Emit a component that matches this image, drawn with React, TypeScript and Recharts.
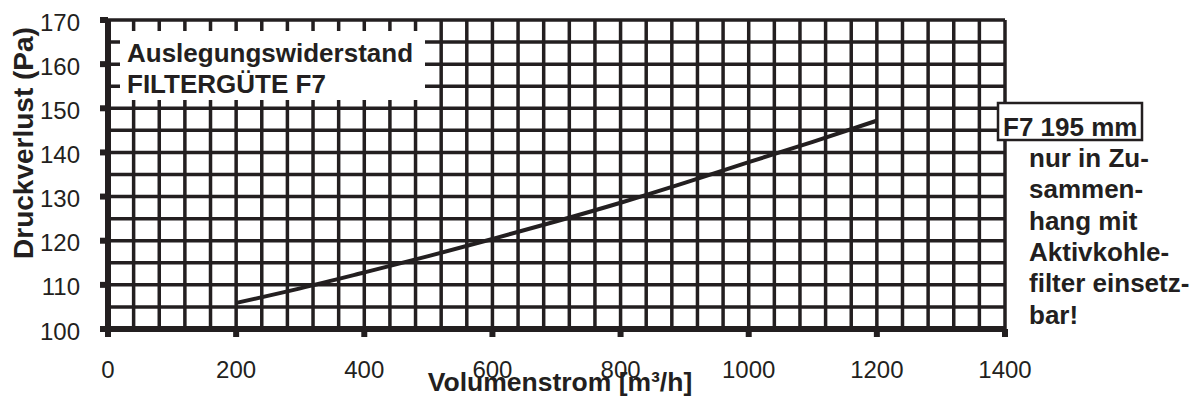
import { LineChart, Line, XAxis, YAxis, CartesianGrid } from "recharts"

// Volumenstrom [m³/h] and Druckverlust [Pa]
const flow = [200, 300, 400, 500, 600, 700, 800, 900, 1000, 1100, 1200]
const pressure = [105.9, 109.2, 112.8, 116.5, 120.4, 124.4, 128.6, 133.1, 137.8, 142.4, 147.2]

const xTicks = [0, 200, 400, 600, 800, 1000, 1200, 1400]
const yTicks = [100, 110, 120, 130, 140, 150, 160, 170]

// minor grid: every 40 m³/h and every 5 Pa
const gridX = Array.from({ length: 36 }, (_, i) => i * 40)
const gridY = Array.from({ length: 15 }, (_, i) => 100 + i * 5)

const noteLines = ["nur in Zu-", "sammen-", "hang mit", "Aktivkohle-", "filter einsetz-", "bar!"]

const data = flow.map((x, i) => ({ x, p: pressure[i] }))

const ink = "#231f20"
const font = '"Liberation Sans", Arial, sans-serif'

export default function App() {
  return (
    <div style={{ position: "absolute", left: 0, top: 0, width: 1203, height: 401, background: "#fff", fontFamily: font }}>
      <LineChart width={1203} height={401} data={data} margin={{ top: 20, right: 198, left: 0, bottom: 22 }}>
        <CartesianGrid stroke={ink} strokeWidth={3.5} xAxisId="grid" yAxisId="grid" />
        <XAxis xAxisId="grid" type="number" dataKey="x" domain={[0, 1400]} ticks={gridX} interval={0} allowDataOverflow hide />
        <YAxis yAxisId="grid" type="number" dataKey="p" domain={[100, 170]} ticks={gridY} interval={0} allowDataOverflow hide />
        <XAxis
          type="number"
          dataKey="x"
          domain={[0, 1400]}
          ticks={xTicks}
          interval={0}
          height={50}
          tickSize={8}
          tickMargin={24}
          axisLine={{ stroke: ink, strokeWidth: 6 }}
          tickLine={{ stroke: ink, strokeWidth: 6 }}
          tick={{ fontSize: 24, fill: ink, fontFamily: font }}
        />
        <YAxis
          type="number"
          domain={[100, 170]}
          ticks={yTicks}
          interval={0}
          width={108}
          tickSize={8}
          tickMargin={20}
          axisLine={{ stroke: ink, strokeWidth: 6 }}
          tickLine={{ stroke: ink, strokeWidth: 6 }}
          tick={{ fontSize: 24, fill: ink, fontFamily: font, dy: 2 }}
        />
        {/* invisible copy so the hidden grid axes have a series of their own */}
        <Line xAxisId="grid" yAxisId="grid" dataKey="p" stroke="none" dot={false} legendType="none" isAnimationActive={false} />
        <Line
          type="monotone"
          dataKey="p"
          stroke={ink}
          strokeWidth={4}
          dot={false}
          isAnimationActive={false}
        />
      </LineChart>

      <svg width={1203} height={401} style={{ position: "absolute", left: 0, top: 0, pointerEvents: "none" }}>
        <g fontFamily={font} fontWeight="bold" fill={ink}>
          <rect x={120} y={31} width={305} height={69} fill="#fff" />
          <text x={127} y={62} fontSize={26}>Auslegungswiderstand</text>
          <text x={127} y={93} fontSize={26}>FILTERGÜTE F7</text>

          <rect x={998} y={103} width={144} height={37} fill="#fff" stroke={ink} strokeWidth={2.5} />
          <text x={1003} y={136} fontSize={26}>F7 195 mm</text>

          {noteLines.map((t, i) => (
            <text key={t} x={1029} y={167 + i * 31.3} fontSize={26}>{t}</text>
          ))}

          <text x={560} y={391} fontSize={26.5} textAnchor="middle">Volumenstrom [m³/h]</text>
          <text x={33} y={143} fontSize={28} textAnchor="middle" transform="rotate(-90 33 143)">
            Druckverlust (Pa)
          </text>
        </g>
      </svg>
    </div>
  )
}
